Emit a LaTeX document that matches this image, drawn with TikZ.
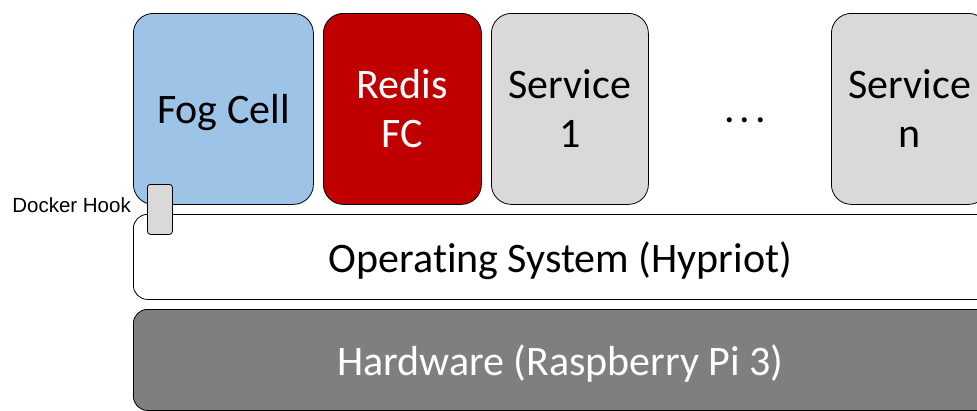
\documentclass[tikz,border=0pt]{standalone}
\usepackage{fontspec}
\setmainfont{Carlito}[Ligatures=NoCommon]
\newfontfamily\hookfont{Liberation Sans}
\usetikzlibrary{positioning}
\definecolor{fogblue}{RGB}{157,195,230}
\definecolor{redisred}{RGB}{192,0,0}
\definecolor{servgray}{RGB}{217,217,217}
\definecolor{hwgray}{RGB}{127,127,127}
\begin{document}
\begin{tikzpicture}[x=1pt,y=-1pt,
  box/.style={draw=black,line width=0.8pt,rounded corners=20pt,anchor=north west,inner sep=0pt,
    minimum height=191pt,align=center,font=\fontsize{42}{49}\selectfont},
  layer/.style={draw=black,line width=0.8pt,rounded corners=14pt,anchor=north west,inner sep=0pt,
    minimum width=860pt,text depth=0pt,font=\fontsize{42}{49}\selectfont}]
\useasboundingbox (0,0) rectangle (977,410);
\clip (0,0) rectangle (977,410);
%containers
\node[box,fill=fogblue,minimum width=180pt,text depth=0pt] (fog) at (133,13) {Fog Cell};
\node[box,fill=redisred,text=white,minimum width=158pt] (redis) at (323,13) {Redis\\FC};
\node[box,fill=servgray,minimum width=157pt] (serv1) at (491,13) {Service\\1};
\node[font=\fontsize{42}{49}\selectfont] (dots) at (745,120) {.\kern5pt.\kern5pt.};
\node[box,fill=servgray,minimum width=157pt] (servn) at (831,13) {Service\\n};
%layers
\node[layer,fill=white,minimum height=85pt] (os) at (133,214) {\hspace{-6pt}Operating System (Hypriot)};
\node[layer,fill=hwgray,text=white,minimum height=101pt] (hw) at (133,309) {\hspace{-6pt}Hardware (Raspberry Pi 3)};
%hook
\node[draw=black,line width=0.8pt,fill=servgray,rounded corners=3pt,anchor=north west,
  minimum width=25pt,minimum height=50pt,inner sep=0pt] (hook) at (147,184) {};
\node[left=16pt of hook.west,font=\hookfont\fontsize{20.5}{24}\selectfont,inner sep=0pt,yshift=4pt] (hooklabel) {Docker Hook};
\end{tikzpicture}
\end{document}
